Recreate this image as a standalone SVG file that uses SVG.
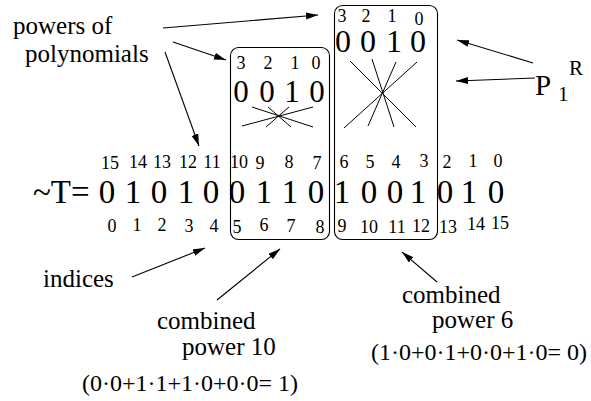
<svg xmlns="http://www.w3.org/2000/svg" width="591" height="401" viewBox="0 0 591 401">
<defs>
<marker id="ah" markerUnits="userSpaceOnUse" markerWidth="13" markerHeight="8" refX="12" refY="3.5" orient="auto">
<path d="M0,0 L12,3.5 L0,7 z" fill="#000"/>
</marker>
</defs>
<rect width="591" height="401" fill="#fff"/>

<g id="label-powers" font-family="Liberation Serif" font-size="25" fill="#000">
<text x="13" y="34">powers of</text>
<text x="25" y="62">polynomials</text>
</g>

<g id="label-P1R" font-family="Liberation Serif" fill="#000">
<text x="535" y="95" font-size="29">P</text>
<text x="558" y="101" font-size="21">1</text>
<text x="569" y="75" font-size="21">R</text>
</g>

<g id="label-indices" font-family="Liberation Serif" font-size="25" fill="#000">
<text x="43" y="287">indices</text>
</g>

<g id="label-combined10" font-family="Liberation Serif" font-size="25" fill="#000">
<text x="157" y="329">combined</text>
<text x="182" y="355">power 10</text>
<text x="82" y="391" font-size="24">(0·0+1·1+1·0+0·0= 1)</text>
</g>

<g id="label-combined6" font-family="Liberation Serif" font-size="25" fill="#000">
<text x="402" y="303">combined</text>
<text x="432" y="328">power 6</text>
<text x="371" y="360" font-size="24">(1·0+0·1+0·0+1·0= 0)</text>
</g>

<g id="sequence-T" font-family="Liberation Serif" fill="#000" text-anchor="middle">
<text x="33" y="203" font-size="33" text-anchor="start">~T=</text>
<g font-size="33">
<text x="107" y="203">0</text>
<text x="133" y="203">1</text>
<text x="159" y="203">0</text>
<text x="186" y="203">1</text>
<text x="211" y="203">0</text>
<text x="237" y="203">0</text>
<text x="264" y="203">1</text>
<text x="290" y="203">1</text>
<text x="316" y="203">0</text>
<text x="342" y="203">1</text>
<text x="369" y="203">0</text>
<text x="395" y="203">0</text>
<text x="418" y="203">1</text>
<text x="445" y="203">0</text>
<text x="469" y="203">1</text>
<text x="496" y="203">0</text>
</g>
<g font-size="18">
<text x="110" y="169">15</text>
<text x="138" y="168">14</text>
<text x="162" y="168">13</text>
<text x="188" y="168">12</text>
<text x="212" y="168">11</text>
<text x="239" y="168">10</text>
<text x="260" y="169">9</text>
<text x="289" y="168">8</text>
<text x="317" y="169">7</text>
<text x="344" y="168">6</text>
<text x="370" y="168">5</text>
<text x="396" y="168">4</text>
<text x="424" y="167">3</text>
<text x="447" y="168">2</text>
<text x="473" y="167">1</text>
<text x="498" y="167">0</text>
<text x="112" y="232">0</text>
<text x="137" y="231">1</text>
<text x="162" y="231">2</text>
<text x="189" y="232">3</text>
<text x="214" y="232">4</text>
<text x="237" y="233">5</text>
<text x="264" y="231">6</text>
<text x="291" y="232">7</text>
<text x="320" y="233">8</text>
<text x="342" y="232">9</text>
<text x="369" y="233">10</text>
<text x="397" y="233">11</text>
<text x="421" y="232">12</text>
<text x="448" y="233">13</text>
<text x="476" y="230">14</text>
<text x="500" y="229">15</text>
</g>
</g>

<g id="box-power10" font-family="Liberation Serif" fill="#000" text-anchor="middle">
<rect x="230.5" y="47.5" width="99" height="192" rx="8" fill="none" stroke="#000" stroke-width="1.1"/>
<g font-size="18">
<text x="241" y="69">3</text>
<text x="268" y="69">2</text>
<text x="295" y="69">1</text>
<text x="316" y="69">0</text>
</g>
<g font-size="31">
<text x="241" y="102">0</text>
<text x="267" y="102">0</text>
<text x="292" y="102">1</text>
<text x="317" y="102">0</text>
</g>
<g stroke="#000" stroke-width="1" fill="none">
<line x1="252" y1="107" x2="313" y2="127"/>
<line x1="242" y1="126" x2="313" y2="107"/>
<line x1="268" y1="107" x2="291" y2="127"/>
<line x1="289" y1="107" x2="266" y2="127"/>
</g>
</g>

<g id="box-power6" font-family="Liberation Serif" fill="#000" text-anchor="middle">
<rect x="334.5" y="5.5" width="103" height="234" rx="8" fill="none" stroke="#000" stroke-width="1.1"/>
<g font-size="18">
<text x="342" y="22">3</text>
<text x="366" y="22">2</text>
<text x="392" y="22">1</text>
<text x="419" y="25">0</text>
</g>
<g font-size="32">
<text x="343" y="52">0</text>
<text x="368" y="52">0</text>
<text x="394" y="52">1</text>
<text x="418" y="52">0</text>
</g>
<g stroke="#000" stroke-width="1" fill="none">
<line x1="350" y1="61" x2="416" y2="127"/>
<line x1="417" y1="62" x2="344" y2="128"/>
<line x1="372" y1="59" x2="394" y2="127"/>
<line x1="396" y1="62" x2="368" y2="126"/>
</g>
</g>

<g id="connectors" stroke="#000" stroke-width="1.1" fill="none" marker-end="url(#ah)">
<line x1="163" y1="28" x2="318" y2="15"/>
<line x1="173" y1="42" x2="226" y2="60"/>
<line x1="165" y1="52" x2="199" y2="146"/>
<line x1="533" y1="63" x2="457" y2="40"/>
<line x1="535" y1="78" x2="456" y2="81"/>
<line x1="132" y1="277" x2="205" y2="248"/>
<line x1="217" y1="300" x2="280" y2="249"/>
<line x1="437" y1="282" x2="402" y2="252"/>
</g>
</svg>
